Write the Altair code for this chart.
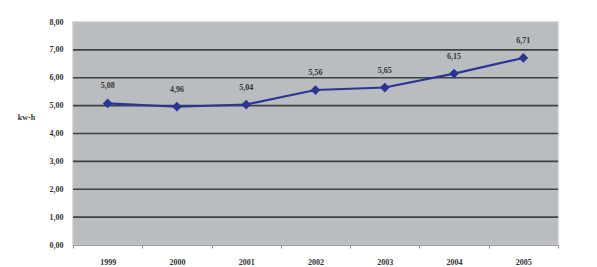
import altair as alt
import pandas as pd

years = ["1999", "2000", "2001", "2002", "2003", "2004", "2005"]
values = [5.08, 4.96, 5.04, 5.56, 5.65, 6.15, 6.71]
labels = ["5,08", "4,96", "5,04", "5,56", "5,65", "6,15", "6,71"]
y_ticks = [0, 1, 2, 3, 4, 5, 6, 7, 8]
grid_lines = [1, 2, 3, 4, 5, 6, 7]

df = pd.DataFrame({"year": years, "value": values, "label": labels})
gdf = pd.DataFrame({"g": grid_lines})

FONT = "Liberation Serif"

y_axis = alt.Axis(values=y_ticks,
                  labelExpr="replace(format(datum.value, '.2f'), '.', ',')",
                  labelOverlap=False, labelFlush=False,
                  labelFont=FONT, labelFontSize=8, labelFontWeight="bold",
                  labelColor="#333333", labelPadding=10, ticks=False, domain=False,
                  grid=False,
                  titleAngle=0, titleX=-47, titleY=95, titleAlign="center",
                  titleBaseline="middle", titleFont=FONT, titleFontSize=8,
                  titleFontWeight="bold", titleColor="#333333")
y_scale = alt.Scale(domain=[0, 8], nice=False)

x = alt.X("year:N", sort=years, title=None,
          scale=alt.Scale(paddingInner=0, paddingOuter=0),
          axis=alt.Axis(labelAngle=0, labelFont=FONT, labelFontSize=8, labelFontWeight="bold",
                        labelColor="#333333", labelPadding=10, tickBand="extent",
                        tickSize=3, tickColor="#8a8a8a", domainColor="#9a9a9a", grid=False))
y = alt.Y("value:Q", title="kw-h", scale=y_scale, axis=y_axis)

grid = alt.Chart(gdf).mark_rule(color="#3f4242", strokeWidth=1.6).encode(
    y=alt.Y("g:Q", title="kw-h", scale=y_scale, axis=y_axis))
line = alt.Chart(df).mark_line(color="#2b3595", strokeWidth=2.2).encode(x=x, y=y)
pts = alt.Chart(df).mark_point(shape="diamond", filled=True, size=95, color="#2b3595",
                               opacity=1).encode(x=x, y=y)
txt = alt.Chart(df).mark_text(dy=-17, font=FONT, fontSize=8, fontWeight="bold",
                              color="#333333").encode(x=x, y=y, text="label:N")

chart = alt.layer(grid, line, pts, txt).properties(
    width=485, height=223,
    padding={"left": 65, "top": 14, "right": 31, "bottom": 22},
    autosize="none",
    background="white",
).configure_view(fill="#b9bdc0", stroke="#c9ccce", strokeWidth=1.5)

chart.save("out.html", embed_options={"renderer": "svg", "actions": False})
